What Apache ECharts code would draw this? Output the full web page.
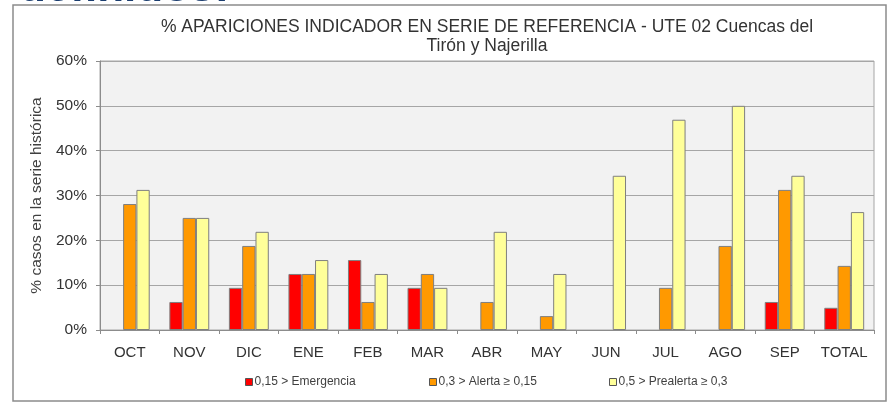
<!DOCTYPE html>
<html>
<head>
<meta charset="utf-8">
<script src="https://cdn.jsdelivr.net/npm/echarts@6/dist/echarts.min.js"></script>
<style>
html,body{margin:0;padding:0;background:#fff;}
#c{width:895px;height:411px;}
</style>
</head>
<body>
<div id="c"></div>
<script>
var categories = ['OCT','NOV','DIC','ENE','FEB','MAR','ABR','MAY','JUN','JUL','AGO','SEP','TOTAL'];
var emergencia = [0, 6.25, 9.4, 12.5, 15.6, 9.4, 0, 0, 0, 0, 0, 6.25, 4.95];
var alerta = [28.1, 25, 18.75, 12.5, 6.25, 12.5, 6.25, 3.1, 0, 9.4, 18.75, 31.25, 14.3];
var prealerta = [31.25, 25, 21.9, 15.6, 12.5, 9.4, 21.9, 12.5, 34.4, 46.9, 50, 34.4, 26.3];
var seriesNames = ['0,15 > Emergencia', '0,3 > Alerta \u2265 0,15', '0,5 > Prealerta \u2265 0,3'];
var yTicks = [0, 10, 20, 30, 40, 50, 60];

function noZero(arr) { return arr.map(function (v) { return v === 0 ? '-' : v; }); }

var chart = echarts.init(document.getElementById('c'), null, {renderer: 'canvas'});
var font = 'Liberation Sans, Arial, sans-serif';
var barBorder = {borderColor: '#7f7f7f', borderWidth: 1};
function legendAt(name, left) {
  return {
    data: [name], left: left, top: 371, icon: 'rect',
    itemWidth: 7, itemHeight: 7, itemGap: 0,
    textStyle: {fontFamily: font, fontSize: 12, color: '#404040', padding: [0, 0, 0, -3]},
    itemStyle: {borderColor: '#555', borderWidth: 1}
  };
}
chart.setOption({
  animation: false,
  backgroundColor: '#ffffff',
  textStyle: {fontFamily: font},
  title: {
    text: '% APARICIONES INDICADOR EN SERIE DE REFERENCIA - UTE 02 Cuencas del\nTirón y Najerilla',
    left: 482, textAlign: 'center', top: 13,
    textStyle: {fontFamily: font, fontSize: 17.5, fontWeight: 'normal', color: '#333333', lineHeight: 19}
  },
  legend: [legendAt(seriesNames[0], 240), legendAt(seriesNames[1], 424), legendAt(seriesNames[2], 604)],
  grid: {left: 100, right: 21, top: 61, bottom: 81, show: true, backgroundColor: '#f2f2f2', borderColor: '#a6a6a6', borderWidth: 1},
  xAxis: {
    type: 'category', data: categories,
    axisLine: {lineStyle: {color: '#8c8c8c', width: 1}},
    axisTick: {show: true, length: 4, lineStyle: {color: '#8c8c8c'}},
    axisLabel: {fontFamily: font, fontSize: 15, color: '#333333', margin: 15, interval: 0, hideOverlap: false}
  },
  yAxis: {
    type: 'value', min: yTicks[0], max: yTicks[yTicks.length - 1], interval: 10,
    name: '% casos en la serie histórica', nameLocation: 'middle', nameGap: 52,
    nameTextStyle: {fontFamily: font, fontSize: 15.5, color: '#404040'},
    axisLine: {show: true, lineStyle: {color: '#8c8c8c'}},
    axisTick: {show: true, length: 4, lineStyle: {color: '#8c8c8c'}},
    axisLabel: {fontFamily: font, fontSize: 15.5, color: '#333333', margin: 13, formatter: '{value}%'},
    splitLine: {lineStyle: {color: '#a6a6a6', width: 1}}
  },
  series: [
    {name: seriesNames[0], type: 'bar', data: noZero(emergencia), barGap: '0%', barCategoryGap: '33%', itemStyle: Object.assign({color: '#ff0000'}, barBorder)},
    {name: seriesNames[1], type: 'bar', data: noZero(alerta), barGap: '0%', barCategoryGap: '33%', itemStyle: Object.assign({color: '#ff9900'}, barBorder)},
    {name: seriesNames[2], type: 'bar', data: noZero(prealerta), barGap: '0%', barCategoryGap: '33%', itemStyle: Object.assign({color: '#ffff99'}, barBorder)}
  ],
  graphic: [
    {type: 'rect', shape: {x: 13, y: 5, width: 873, height: 396}, style: {fill: 'none', stroke: '#8c8c8c', lineWidth: 1.5}, z: 100},
    {type: 'text', left: 19, top: -33, z: 100,
     style: {text: 'definidos:', fontSize: 44, fontWeight: 'bold', fontFamily: font, fill: '#1b3d6f'}}
  ]
});
</script>
</body>
</html>
